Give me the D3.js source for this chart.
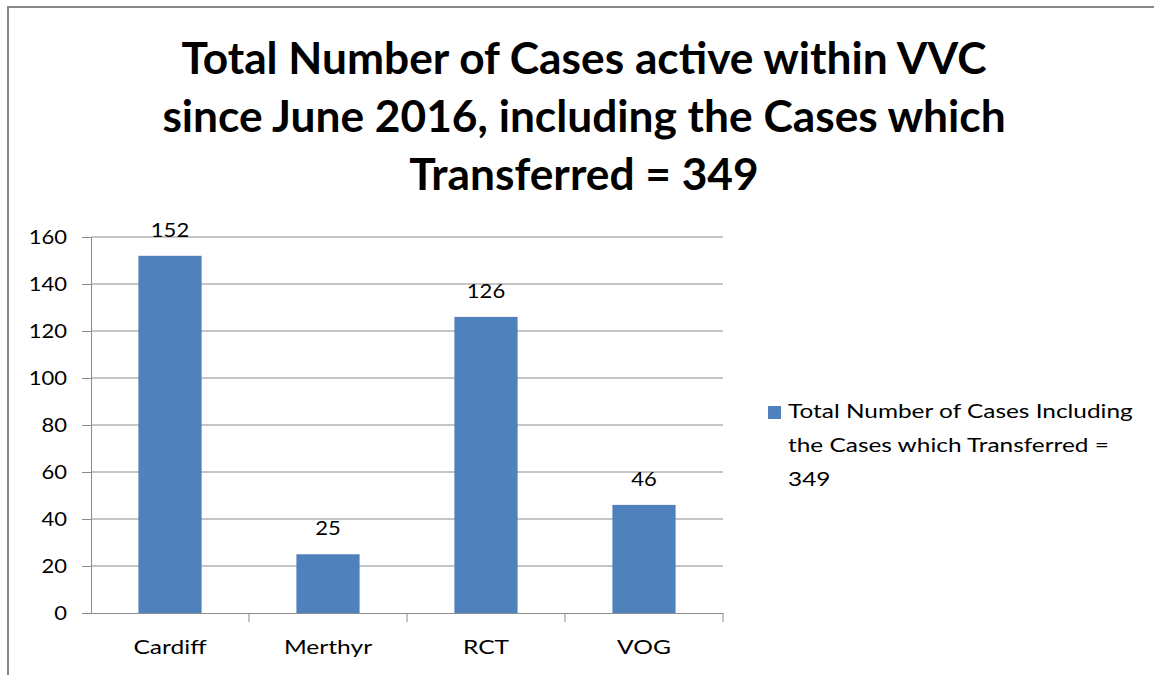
<!DOCTYPE html>
<html>
<head>
<meta charset="utf-8">
<script src="https://cdn.jsdelivr.net/npm/d3@7"></script>
<style>
  body { margin: 0; background: #fff; }
  svg { display: block; font-family: Lato, "Open Sans", sans-serif; }
</style>
</head>
<body>
<svg id="chart" width="1154" height="675"></svg>
<script>
// chart data
var categories = ["Cardiff", "Merthyr", "RCT", "VOG"];
var caseCounts = [152, 25, 126, 46];
var yTicks = [0, 20, 40, 60, 80, 100, 120, 140, 160];
var titleLines = ["Total Number of Cases active within VVC",
                  "since June 2016, including the Cases which",
                  "Transferred = 349"];
var legendLines = ["Total Number of Cases Including",
                   "the Cases which Transferred =",
                   "349"];

var svg = d3.select("#chart");
var plot = {left: 91, right: 723, top: 237, bottom: 613};
var gridColor = "#8c8c8c";

// the source font is wider than Lato, so widen text horizontally
function stretch(sel, sx) {
  sel.each(function() {
    var t = d3.select(this);
    var tx = +t.attr("x") || 0, ty = +t.attr("y") || 0;
    t.attr("x", 0).attr("y", 0)
     .attr("transform", "translate(" + tx + "," + ty + ") scale(" + sx + ",1)");
  });
}

// outer frame (only top and left edges show in the crop)
svg.append("path")
  .attr("d", "M8,675 V7 H1154")
  .attr("fill", "none")
  .attr("stroke", "#868686")
  .attr("stroke-width", 2);

// title
svg.append("g").selectAll("text")
  .data(titleLines)
  .enter().append("text")
  .attr("x", 584)
  .attr("y", function(d, i){ return 74 + i * 58; })
  .attr("text-anchor", "middle")
  .attr("font-size", 43)
  .attr("font-weight", "bold")
  .attr("fill", "#000")
  .text(function(d){ return d; })
  .call(stretch, 1.03);

var x = d3.scaleBand()
  .domain(categories)
  .range([plot.left, plot.right])
  .paddingInner(0.6)
  .paddingOuter(0.3);

var y = d3.scaleLinear()
  .domain([0, 160])
  .range([plot.bottom, plot.top]);

// gridlines
svg.append("g").selectAll("line")
  .data(yTicks.slice(1))
  .enter().append("line")
  .attr("x1", plot.left).attr("x2", plot.right)
  .attr("y1", function(d){ return y(d); })
  .attr("y2", function(d){ return y(d); })
  .attr("stroke", gridColor)
  .attr("stroke-width", 1);

// y axis
var yAxis = d3.axisLeft(y).tickValues(yTicks).tickSize(9).tickPadding(15);
var gy = svg.append("g")
  .attr("transform", "translate(" + plot.left + ",0)")
  .call(yAxis);
gy.select(".domain").attr("stroke", gridColor);
gy.selectAll(".tick line").attr("stroke", gridColor);
gy.selectAll(".tick text")
  .attr("font-size", 20)
  .attr("font-family", "Lato, sans-serif")
  .attr("fill", "#000")
  .call(stretch, 1.1);

// x axis, ticks sit between categories
var xAxis = d3.axisBottom(x).tickSize(0).tickPadding(27);
var gx = svg.append("g")
  .attr("transform", "translate(0," + plot.bottom + ")")
  .call(xAxis);
gx.select(".domain").attr("stroke", gridColor);
gx.selectAll(".tick text")
  .attr("font-size", 20)
  .attr("font-family", "Lato, sans-serif")
  .attr("fill", "#000")
  .call(stretch, 1.23);
var step = x.step();
gx.selectAll(".sep")
  .data(categories)
  .enter().append("line")
  .attr("class", "sep")
  .attr("x1", function(d){ return x(d) + x.bandwidth() / 2 + step / 2; })
  .attr("x2", function(d){ return x(d) + x.bandwidth() / 2 + step / 2; })
  .attr("y1", 0).attr("y2", 9)
  .attr("stroke", gridColor);

// bars
svg.append("g").selectAll("rect")
  .data(caseCounts)
  .enter().append("rect")
  .attr("x", function(d, i){ return x(categories[i]); })
  .attr("y", function(d){ return y(d); })
  .attr("width", x.bandwidth())
  .attr("height", function(d){ return y(0) - y(d); })
  .attr("fill", "#4f81bd");

// value labels
svg.append("g").selectAll("text")
  .data(caseCounts)
  .enter().append("text")
  .attr("x", function(d, i){ return x(categories[i]) + x.bandwidth() / 2; })
  .attr("y", function(d){ return y(d) - 19; })
  .attr("text-anchor", "middle")
  .attr("font-size", 20)
  .attr("fill", "#000")
  .text(function(d){ return d; })
  .call(stretch, 1.1);

// legend
var legend = svg.append("g").attr("transform", "translate(768,0)");
legend.append("rect")
  .attr("x", 0).attr("y", 406)
  .attr("width", 13).attr("height", 13)
  .attr("fill", "#4f81bd");
legend.selectAll("text")
  .data(legendLines)
  .enter().append("text")
  .attr("x", 20)
  .attr("y", function(d, i){ return 418 + i * 34; })
  .attr("font-size", 20)
  .attr("fill", "#000")
  .text(function(d){ return d; })
  .call(stretch, 1.22);
</script>
</body>
</html>
